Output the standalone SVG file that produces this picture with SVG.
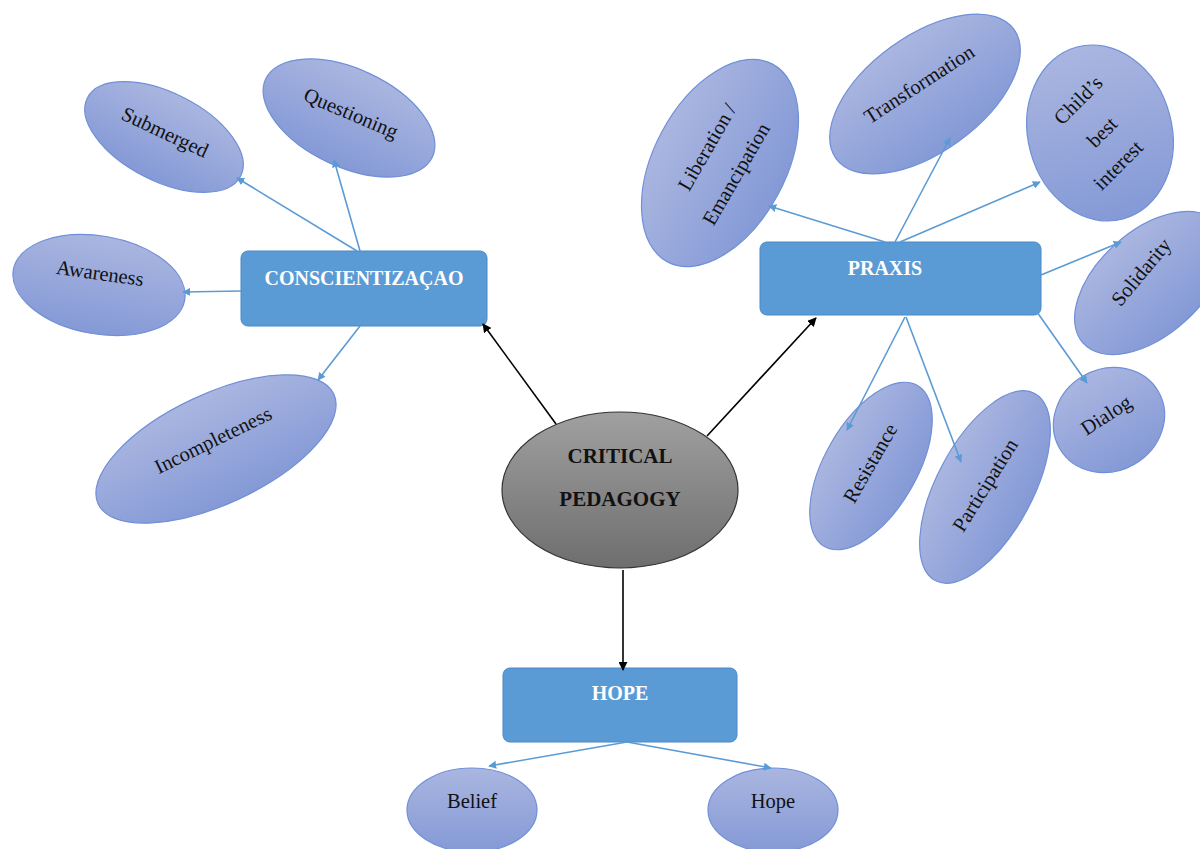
<svg xmlns="http://www.w3.org/2000/svg" width="1200" height="849" viewBox="0 0 1200 849">
<defs>
<linearGradient id="blueG" x1="0" y1="0" x2="0" y2="1">
<stop offset="0" stop-color="#aab6e0"/>
<stop offset="1" stop-color="#8499d6"/>
</linearGradient>
<linearGradient id="greyG" x1="0" y1="0" x2="0" y2="1">
<stop offset="0" stop-color="#a0a0a0"/>
<stop offset="1" stop-color="#6e6e6e"/>
</linearGradient>
<marker id="ab" viewBox="0 0 10 10" refX="9" refY="5" markerWidth="8" markerHeight="8" orient="auto" markerUnits="userSpaceOnUse">
<path d="M0,0 L10,5 L0,10 z" fill="#5b9bd5"/>
</marker>
<marker id="ak" viewBox="0 0 10 10" refX="9" refY="5" markerWidth="9" markerHeight="9" orient="auto" markerUnits="userSpaceOnUse">
<path d="M0,0 L10,5 L0,10 z" fill="#000"/>
</marker>
<style>
.oval{fill:url(#blueG);stroke:#6f8fd8;stroke-width:1.2}
.box{fill:#5b9bd5;stroke:#4a88c7;stroke-width:1}
.lbl{font-family:"Liberation Serif","Times New Roman",serif;font-size:20.5px;fill:#111;text-anchor:middle}
.hdr{font-family:"Liberation Serif","Times New Roman",serif;font-size:20px;font-weight:bold;fill:#fff;text-anchor:middle}
.cp{font-family:"Liberation Serif","Times New Roman",serif;font-size:21px;font-weight:bold;fill:#111;text-anchor:middle}
.cb{stroke:#5b9bd5;stroke-width:1.6;fill:none;marker-end:url(#ab)}
.ck{stroke:#000;stroke-width:1.6;fill:none;marker-end:url(#ak)}
</style>
</defs>
<rect width="1200" height="849" fill="#fff"/>

<g id="critical-pedagogy">
<ellipse cx="620" cy="490" rx="118" ry="78" fill="url(#greyG)" stroke="#333" stroke-width="1.2"/>
<text class="cp" x="620" y="463">CRITICAL</text>
<text class="cp" x="620" y="506">PEDAGOGY</text>
</g>

<g id="conscientizacao">
<rect class="box" x="241" y="251" width="246" height="75" rx="7"/>
<text class="hdr" x="364" y="285">CONSCIENTIZAÇAO</text>
</g>

<g id="praxis">
<rect class="box" x="760" y="242" width="281" height="73" rx="7"/>
<text class="hdr" x="885" y="275">PRAXIS</text>
</g>

<g id="hope-box">
<rect class="box" x="503" y="668" width="234" height="74" rx="7"/>
<text class="hdr" x="620" y="700">HOPE</text>
</g>

<g id="submerged">
<ellipse class="oval" cx="0" cy="0" rx="86" ry="44" transform="translate(164,137) rotate(27)"/>
<text class="lbl" x="0" y="7" transform="translate(165,132) rotate(25)">Submerged</text>
</g>

<g id="questioning">
<ellipse class="oval" cx="0" cy="0" rx="92" ry="49" transform="translate(349,118) rotate(25)"/>
<text class="lbl" x="0" y="7" transform="translate(351,113) rotate(23)">Questioning</text>
</g>

<g id="awareness">
<ellipse class="oval" cx="0" cy="0" rx="87" ry="49" transform="translate(99,285) rotate(10)"/>
<text class="lbl" x="0" y="7" transform="translate(100,273) rotate(8)">Awareness</text>
</g>

<g id="incompleteness">
<ellipse class="oval" cx="0" cy="0" rx="130" ry="55" transform="translate(216,449) rotate(-25)"/>
<text class="lbl" x="0" y="7" transform="translate(213,440) rotate(-26)">Incompleteness</text>
</g>

<g id="liberation">
<ellipse class="oval" cx="0" cy="0" rx="112" ry="66" transform="translate(720,163) rotate(-62)"/>
<text class="lbl" x="0" y="7" transform="translate(707,147) rotate(-60)">Liberation /</text>
<text class="lbl" x="0" y="7" transform="translate(736,174) rotate(-60)">Emancipation</text>
</g>

<g id="transformation">
<ellipse class="oval" cx="0" cy="0" rx="110" ry="58" transform="translate(925,94) rotate(-36)"/>
<text class="lbl" x="0" y="7" transform="translate(919,84) rotate(-33)">Transformation</text>
</g>

<g id="childs-best-interest">
<ellipse class="oval" cx="0" cy="0" rx="72" ry="89" transform="translate(1100,133) rotate(-15)"/>
<text class="lbl" x="0" y="7" transform="translate(1078,100) rotate(-45)">Child’s</text>
<text class="lbl" x="0" y="7" transform="translate(1102,132) rotate(-45)">best</text>
<text class="lbl" x="0" y="7" transform="translate(1118,165) rotate(-45)">interest</text>
</g>

<g id="solidarity">
<ellipse class="oval" cx="0" cy="0" rx="90" ry="52" transform="translate(1150,283) rotate(-42)"/>
<text class="lbl" x="0" y="7" transform="translate(1141,272) rotate(-50)">Solidarity</text>
</g>

<g id="resistance">
<ellipse class="oval" cx="0" cy="0" rx="93" ry="46" transform="translate(871,466) rotate(-60)"/>
<text class="lbl" x="0" y="7" transform="translate(870,463) rotate(-60)">Resistance</text>
</g>

<g id="participation">
<ellipse class="oval" cx="0" cy="0" rx="106" ry="48" transform="translate(985,487) rotate(-62)"/>
<text class="lbl" x="0" y="7" transform="translate(985,485) rotate(-58)">Participation</text>
</g>

<g id="dialog">
<ellipse class="oval" cx="0" cy="0" rx="57" ry="51" transform="translate(1109,420) rotate(-30)"/>
<text class="lbl" x="0" y="7" transform="translate(1106,415) rotate(-33)">Dialog</text>
</g>

<g id="belief">
<ellipse class="oval" cx="472" cy="810" rx="65" ry="42"/>
<text class="lbl" x="472" y="808">Belief</text>
</g>

<g id="hope">
<ellipse class="oval" cx="773" cy="810" rx="65" ry="42"/>
<text class="lbl" x="773" y="808">Hope</text>
</g>

<g id="connectors">
<line class="cb" x1="357" y1="251" x2="237" y2="178"/>
<line class="cb" x1="360" y1="251" x2="334" y2="160"/>
<line class="cb" x1="241" y1="291" x2="183" y2="292"/>
<line class="cb" x1="360" y1="326" x2="318" y2="380"/>
<line class="cb" x1="885" y1="242" x2="769" y2="206"/>
<line class="cb" x1="895" y1="242" x2="950" y2="138"/>
<line class="cb" x1="900" y1="242" x2="1040" y2="182"/>
<line class="cb" x1="1041" y1="275" x2="1121" y2="242"/>
<line class="cb" x1="905" y1="317" x2="847" y2="430"/>
<line class="cb" x1="906" y1="317" x2="961" y2="462"/>
<line class="cb" x1="1037" y1="312" x2="1087" y2="383"/>
<line class="cb" x1="627" y1="742" x2="489" y2="766"/>
<line class="cb" x1="627" y1="742" x2="771" y2="768"/>
<line class="ck" x1="556" y1="424" x2="483" y2="324"/>
<line class="ck" x1="707" y1="436" x2="816" y2="318"/>
<line class="ck" x1="623" y1="570" x2="623" y2="670"/>
</g>
</svg>
